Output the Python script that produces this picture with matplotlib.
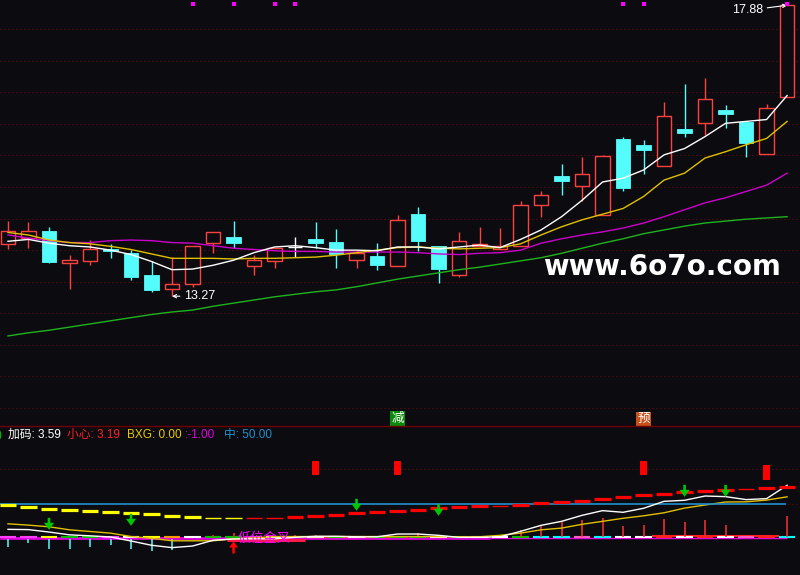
import matplotlib
matplotlib.use('Agg')
import matplotlib.pyplot as plt
from matplotlib.patches import Rectangle, Polygon
from matplotlib.lines import Line2D
import matplotlib.transforms as mtransforms

plt.rcParams['font.family'] = ['Liberation Sans', 'Noto Sans CJK SC', 'DejaVu Sans']

# ---------------- data ----------------
opens = [14.09, 14.19, 14.30, 13.79, 13.83, 14.02, 13.95, 13.61, 13.38, 13.47, 14.11, 14.21, 13.75,
         13.83, 14.05, 14.18, 14.13, 13.85, 13.91, 13.75, 14.57, 14.07, 13.61, 14.07, 14.02, 14.06,
         14.71, 15.17, 15.01, 14.55, 15.76, 15.67, 15.33, 15.92, 16.01, 16.22, 16.03, 15.53, 16.42]
highs = [14.46, 14.45, 14.37, 13.92, 14.16, 14.10, 14.00, 13.83, 13.89, 14.06, 14.28, 14.46, 13.93,
         14.03, 14.21, 14.45, 14.33, 14.00, 14.11, 14.56, 14.68, 14.07, 14.29, 14.37, 14.35, 14.78,
         14.94, 15.37, 15.48, 15.50, 15.79, 15.75, 16.35, 16.63, 16.73, 16.30, 16.03, 16.32, 17.88]
lows = [14.02, 14.03, 13.80, 13.38, 13.77, 13.88, 13.53, 13.34, 13.27, 13.41, 13.96, 14.04, 13.61,
        13.72, 13.89, 14.04, 13.72, 13.72, 13.69, 13.75, 13.99, 13.48, 13.58, 14.07, 14.02, 14.06,
        14.53, 14.88, 14.78, 14.55, 14.94, 15.21, 15.33, 15.80, 15.83, 15.94, 15.48, 15.53, 16.42]
closes = [14.30, 14.30, 13.81, 13.84, 14.02, 13.99, 13.58, 13.37, 13.47, 14.06, 14.28, 14.12, 13.85,
          14.03, 14.05, 14.12, 13.94, 13.95, 13.77, 14.47, 14.15, 13.70, 14.14, 14.10, 14.06, 14.71,
          14.87, 15.10, 15.21, 15.49, 14.98, 15.59, 16.12, 15.86, 16.40, 16.15, 15.69, 16.25, 17.88]

ma5 = [14.14, 14.17, 14.11, 14.07, 14.05, 14.00, 13.93, 13.82, 13.69, 13.70, 13.76, 13.84, 13.96,
       14.05, 14.07, 14.04, 14.00, 14.00, 13.99, 14.05, 14.05, 14.02, 14.05, 14.08, 14.04, 14.17,
       14.32, 14.53, 14.79, 15.08, 15.14, 15.27, 15.51, 15.61, 15.80, 16.01, 16.04, 16.07, 16.45]
ma10 = [14.28, 14.24, 14.16, 14.12, 14.10, 14.06, 14.01, 13.94, 13.87, 13.87, 13.87, 13.86, 13.87,
        13.87, 13.88, 13.89, 13.92, 13.96, 14.00, 14.04, 14.05, 14.03, 14.02, 14.03, 14.04, 14.10,
        14.24, 14.37, 14.48, 14.57, 14.66, 14.85, 15.11, 15.22, 15.46, 15.56, 15.67, 15.77, 16.04]
ma20 = [14.24, 14.19, 14.15, 14.12, 14.12, 14.15, 14.16, 14.15, 14.12, 14.11, 14.07, 14.03, 14.01,
        13.99, 13.98, 13.98, 13.97, 13.97, 13.97, 13.97, 13.96, 13.94, 13.93, 13.95, 13.96, 14.00,
        14.11, 14.18, 14.24, 14.29, 14.35, 14.43, 14.53, 14.64, 14.75, 14.83, 14.93, 15.03, 15.22]
ma60 = [12.64, 12.69, 12.73, 12.78, 12.83, 12.88, 12.93, 12.98, 13.02, 13.05, 13.11, 13.16, 13.21,
        13.26, 13.30, 13.34, 13.37, 13.42, 13.48, 13.54, 13.59, 13.64, 13.69, 13.73, 13.78, 13.83,
        13.88, 13.95, 14.03, 14.11, 14.18, 14.26, 14.32, 14.38, 14.43, 14.46, 14.49, 14.51, 14.53]

top_signal_idx = [9, 11, 13, 14, 30, 31, 38]
tag_jian_idx = 19
tag_yu_idx = 31
high_label = '17.88'
low_label = '13.27'

# lower indicator panel
seg_vals = [47.8, 45.7, 42.8, 40.6, 39.1, 37.7, 36.2, 34.8, 32.6, 30.7, 30.0, 30.0, 30.0, 30.0,
            30.4, 31.9, 34.3, 36.5, 37.7, 39.1, 41.3, 43.8, 45.2, 46.4, 47.4, 48.8, 51.0, 52.5,
            54.6, 57.5, 60.4, 62.3, 64.9, 67.0, 68.4, 70.6, 71.7, 72.5, 73.9]
seg_is_yellow = [True] * 12 + [False] * 27
seg_bold = [True] * 10 + [False] * 4 + [True] * 10 + [False] + [True] * 11 + [False] + [True] * 2
low_white = [13.0, 12.6, 9.1, 5.0, 3.6, 1.9, -3.9, -10.1, -13.5, -11.2, -2.9, -1.0, -0.7, -0.7,
             1.4, 2.9, 2.9, 2.2, 2.2, 6.2, 6.2, 4.3, 1.4, 1.4, 2.2, 10.1, 18.8, 24.6, 33.3, 40.1,
             37.7, 43.5, 53.6, 55.1, 61.3, 60.4, 56.1, 57.5, 76.8]
low_yellow = [21.0, 19.1, 16.7, 12.3, 9.9, 7.5, 2.6, 0.0, -3.6, -3.6, -3.6, -0.7, 0.7, 2.5, 2.5,
              2.5, 2.5, 2.5, 2.5, 2.5, 2.5, 2.5, 2.2, 2.2, 4.3, 7.5, 12.3, 14.8, 20.3, 24.6, 29.0,
              32.6, 37.0, 43.8, 48.3, 52.6, 52.9, 55.4, 60.1]
mid_level = 50.0
stick_up = [0, 0, 0, 0, 0, 0, 0, 0, 0, 0, 4.3, 7.5, 0, 0, 5.1, 5.1, 0, 0, 0, 0, 7.5, 0, 0, 0, 0,
            12.3, 19.6, 24.3, 26.8, 29.7, 18.1, 19.6, 27.5, 23.9, 26.8, 19.6, 0, 0, 31.9]
stick_down = [-11.9, -7.0, -14.9, -16.2, -11.9, -9.4, -14.9, -18.1, -16.7] + [0] * 30
box_idx = [15, 19, 31, 37]
box_top = [112.3, 112.3, 112.3, 106.5]
box_bot = [92.0, 92.0, 92.0, 84.8]
down_arrow_idx = [2, 6, 17, 21, 33, 35]
down_arrow_val = [12.3, 18.1, 39.9, 32.6, 60.1, 60.1]
up_arrow_idx = 11
up_arrow_val = -4.6
cross_text = '低位金叉'
band_colors = ['#ff40ff', '#ff40ff', '#ffff00', '#00c000', '#00c000', '#ff40ff', '#ffffff',
               '#ffff00', '#ff9900', '#ffffff', '#00c000', '#00c000', '#ff40ff', '#ffffff',
               '#00c000', '#ffffff', '#00c000', '#ffffff', '#00c000', '#00c000', '#00c000',
               '#ffffff', '#00c000', '#ffffff', '#ffffff', '#00c000', '#00ffff', '#00ffff',
               '#ff60c0', '#00ffff', '#ffffff', '#ffffff', '#ff2020', '#ffffff', '#ff2020',
               '#ffffff', '#ff60c0', '#ff2020', '#00ffff']
title_parts = [('加码: 3.59', '#ffffff'), ('小心: 3.19', '#ff2020'), ('BXG: 0.00', '#e8c800'),
               (':-1.00', '#e000e0'), ('中: 50.00', '#1e90d0')]

# ---------------- style ----------------
BG = '#0c0c10'
RED = '#ff4040'
CYAN = '#54fcfc'
GRID = '#6e0c0c'

n = len(closes)
xs = list(range(n))
fig = plt.figure(figsize=(8, 5.75), dpi=100, facecolor=BG)
ax = fig.add_axes([0, 149 / 575, 1, 426 / 575])
ax2 = fig.add_axes([0, 0, 1, 149 / 575])
for a in (ax, ax2):
    a.set_facecolor(BG)
    a.set_xlim(-0.39, 38.63)
    a.set_xticks([]); a.set_yticks([])
    for s in a.spines.values():
        s.set_visible(False)
ax.set_ylim(11.213, 17.964)
ax2.set_ylim(-53.2, 162.8)

# grid lines
for k in range(13):
    ax.axhline(11.5 + 0.5 * k, color=GRID, lw=0.72, ls=(0, (1, 3)), zorder=0)
for g in (0, 50, 100):
    ax2.axhline(g, color=GRID, lw=0.72, ls=(0, (1, 3)), zorder=0)
fig.add_artist(Line2D([0, 1], [149 / 575, 149 / 575], transform=fig.transFigure,
                      color='#700000', lw=1.0))

# candles
bw = 0.71
for i in xs:
    o, h, l, c = opens[i], highs[i], lows[i], closes[i]
    if c > o:
        ax.add_patch(Rectangle((i - bw / 2, o), bw, c - o, facecolor=BG, edgecolor=RED,
                               lw=1.0, zorder=3))
        ax.vlines(i, c, h, color=RED, lw=1.0, zorder=3)
        ax.vlines(i, l, o, color=RED, lw=1.0, zorder=3)
    elif c < o:
        ax.vlines(i, l, h, color=CYAN, lw=1.0, zorder=3)
        ax.add_patch(Rectangle((i - bw / 2, c), bw, o - c, facecolor=CYAN, edgecolor=CYAN,
                               lw=0.6, zorder=3))
    else:
        ax.vlines(i, l, h, color='white', lw=1.0, zorder=3)
        ax.hlines(c, i - bw / 2, i + bw / 2, color='white', lw=1.0, zorder=3)

ax.plot(xs, ma60, color='#1fb31f', lw=1.0, zorder=4)
ax.plot(xs, ma20, color='#cc00cc', lw=1.0, zorder=4)
ax.plot(xs, ma10, color='#e0c000', lw=1.0, zorder=4)
ax.plot(xs, ma5, color='#ffffff', lw=1.0, zorder=5)

# labels for extremes
imax = highs.index(max(highs))
imin = lows.index(min(lows))
ax.annotate(high_label, xy=(imax, highs[imax]), xytext=(-24, -5), textcoords='offset pixels',
            color='white', fontsize=9, ha='right', va='center', zorder=6,
            arrowprops=dict(arrowstyle='->', color='white', lw=0.8, shrinkA=1, shrinkB=0,
                            mutation_scale=6))
ax.annotate(low_label, xy=(imin, lows[imin]), xytext=(12, 0), textcoords='offset pixels',
            color='white', fontsize=9, ha='left', va='center', zorder=6,
            arrowprops=dict(arrowstyle='->', color='white', lw=0.8, shrinkA=1, shrinkB=0,
                            mutation_scale=6))

# top signal squares
btop = mtransforms.blended_transform_factory(ax.transData, ax.transAxes)
ax.scatter(top_signal_idx, [1 - 3.5 / 426] * len(top_signal_idx), marker='s', s=6,
           color='#ff00ff', transform=btop, zorder=6, linewidths=0)

# tag boxes at bottom of main panel
ax.text(tag_jian_idx, 7.5 / 426, '减', transform=btop, color='white', fontsize=9,
        ha='center', va='center', zorder=6,
        bbox=dict(boxstyle='square,pad=0.08', fc='#0a8a0a', ec='none'))
ax.text(tag_yu_idx, 7.5 / 426, '预', transform=btop, color='white', fontsize=9,
        ha='center', va='center', zorder=6,
        bbox=dict(boxstyle='square,pad=0.08', fc='#c8501a', ec='none'))

# watermark
ax.text(661.5 / 800, (426 - 267) / 426, 'www.6o7o.com', transform=ax.transAxes, color='white',
        fontsize=20, fontweight='bold', family='DejaVu Sans', ha='center', va='center', zorder=7)

# ---------------- lower panel ----------------
ax2.hlines(0, -0.39, 23.5, color='#e000e0', lw=2.0, zorder=2)
ax2.hlines(0, 23.5, 38.0, color='#e000e0', lw=1.0, zorder=2)
ax2.hlines(-1.8, 10.7, 14.5, color='#ff1a4a', lw=2.2, zorder=2)
ax2.hlines(1.2, 14.5, 19.5, color='#ff2020', lw=1.5, zorder=2)
ax2.hlines(3.0, 31.4, 37.6, color='#ff2020', lw=1.5, zorder=2)
for i in xs:
    ax2.hlines(2.4, i - 0.4, i + 0.4, color=band_colors[i], lw=1.5, zorder=2)

for i in xs:
    if stick_up[i] > 0:
        ax2.vlines(i, 1.5, stick_up[i], color='#ff3030', lw=1.1, zorder=3)
    if stick_down[i] < 0:
        ax2.vlines(i, -1.0, stick_down[i], color=CYAN, lw=1.1, zorder=3)

ax2.plot(xs, low_yellow, color='#e0c000', lw=1.0, zorder=4)
ax2.plot(xs, low_white, color='#ffffff', lw=1.0, zorder=5)
ax2.hlines(mid_level, -0.39, 37.95, color='#1e90d0', lw=1.2, zorder=4)

for i in xs:
    col = '#ffff00' if seg_is_yellow[i] else '#ff0000'
    ax2.hlines(seg_vals[i], i - 0.41, i + 0.41, color=col,
               lw=2.3 if seg_bold[i] else 1.0, zorder=6)

for i, t, b in zip(box_idx, box_top, box_bot):
    ax2.add_patch(Rectangle((i - 0.17, b), 0.34, t - b, facecolor='#ff0000', edgecolor='none',
                            zorder=6))

hw, hh, sw, sl = 5 / 20.5, 7 / 0.69, 1.3 / 20.5, 5 / 0.69
for i, v in zip(down_arrow_idx, down_arrow_val):
    pts = [(i, v), (i - hw, v + hh), (i - sw, v + hh), (i - sw, v + hh + sl),
           (i + sw, v + hh + sl), (i + sw, v + hh), (i + hw, v + hh)]
    ax2.add_patch(Polygon(pts, closed=True, facecolor='#00c800', edgecolor='none', zorder=7))

i, v = up_arrow_idx, up_arrow_val
hw2, hh2, sl2 = 4.5 / 20.5, 6 / 0.69, 6 / 0.69
pts = [(i, v), (i - hw2, v - hh2), (i - sw, v - hh2), (i - sw, v - hh2 - sl2),
       (i + sw, v - hh2 - sl2), (i + sw, v - hh2), (i + hw2, v - hh2)]
ax2.add_patch(Polygon(pts, closed=True, facecolor='#ff0000', edgecolor='none', zorder=7))
ax2.text(i + 0.2, -1.0, cross_text, color='#ff00ff', fontsize=9.5, ha='left', va='center',
         zorder=8)

tx = [8, 67, 127, 185, 224]
for (s, col), x0 in zip(title_parts, tx):
    ax2.text(x0 / 800, (575 - 435) / 149, s, transform=ax2.transAxes, color=col, fontsize=8.5,
             ha='left', va='center', zorder=8)
ax2.text(-0.002, (575 - 435) / 149, ')', transform=ax2.transAxes, color='#00c000', fontsize=8.5,
         ha='left', va='center', zorder=8)

fig.savefig('out.png', dpi=100, facecolor=BG)
